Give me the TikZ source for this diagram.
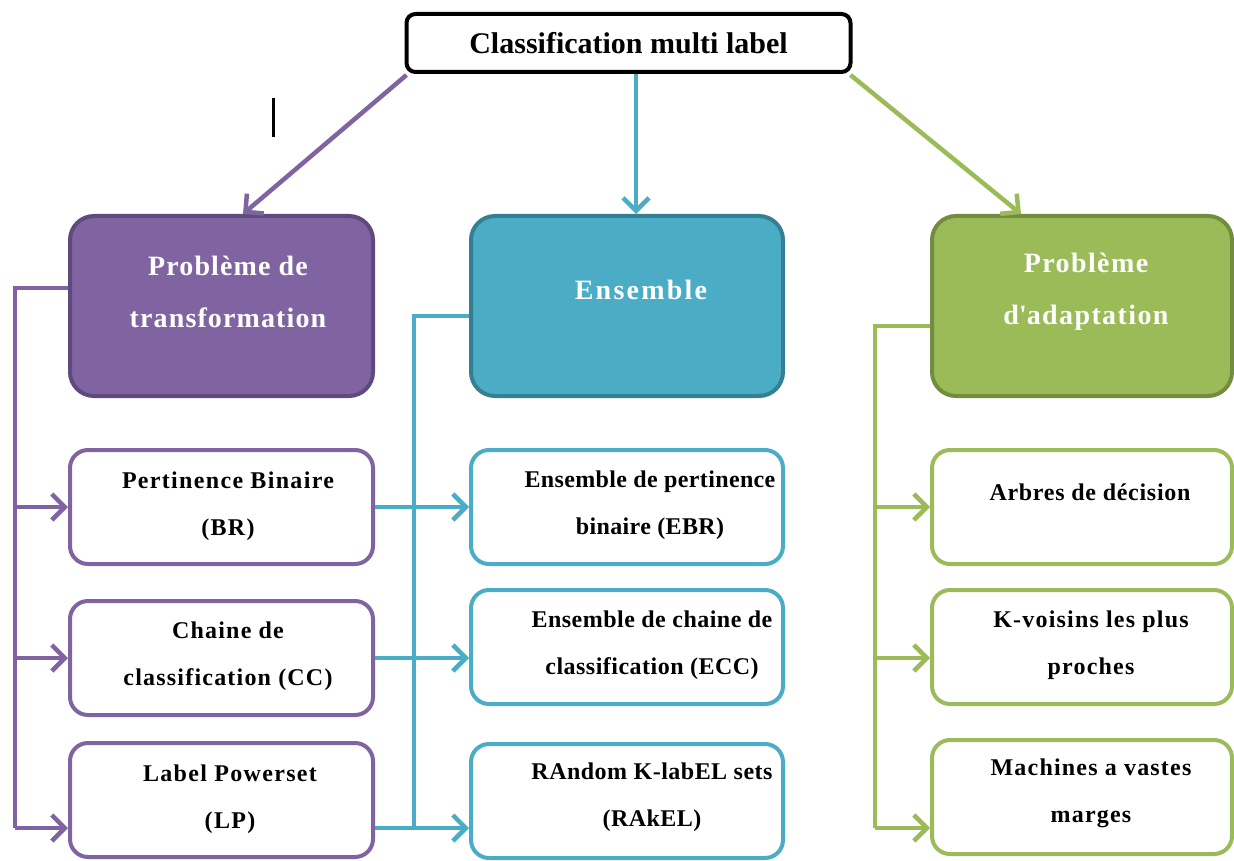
\documentclass[tikz,border=0pt]{standalone}
\usepackage{fontspec}
\setmainfont{Liberation Serif}
\usetikzlibrary{arrows.meta}
\definecolor{purp}{HTML}{8064A2}
\definecolor{purpdark}{HTML}{5E4A7D}
\definecolor{tealc}{HTML}{4BACC6}
\definecolor{tealcdark}{HTML}{357F95}
\definecolor{grn}{HTML}{9BBB59}
\definecolor{grndark}{HTML}{728C40}

\begin{document}
\begin{tikzpicture}[x=1pt,y=-1pt,
  rootbox/.style={rectangle, rounded corners=9pt, line width=4pt, draw=black, fill=white,
    inner sep=0pt, minimum width=444pt, minimum height=58pt,
    font=\fontsize{30}{36}\selectfont\bfseries},
  bigbox/.style={rectangle, rounded corners=24pt, line width=4pt, draw=#1dark, fill=#1,
    inner sep=0pt, minimum height=180pt},
  smallbox/.style={rectangle, rounded corners=18pt, line width=4pt, draw=#1, fill=white,
    inner sep=0pt, minimum height=114pt},
  bigtext/.style={text=white, align=center, inner sep=0pt,
    font=\fontsize{28}{52}\selectfont\bfseries\addfontfeatures{LetterSpace=#1}},
  bigtext/.default=4,
  smalltext/.style={text=black, align=center, inner sep=0pt,
    font=\fontsize{24}{47}\selectfont\bfseries\addfontfeatures{LetterSpace=#1}},
  smalltext/.default=5.5,
  link/.style={line width=4.5pt, draw=#1},
  tip/.style={-{Straight Barb[length=13pt,width=26pt,line width=4.5pt]}}
]
\path[use as bounding box] (0,0) rectangle (1234,861);

% root
\node[rootbox] (top) at (628.5,43) {Classification multi label};
\draw[line width=3pt] (273,98) -- (273,137);

% three families
\node[bigbox=purp, minimum width=303pt] (pt) at (221.5,306) {};
\node[bigbox=tealc, minimum width=312pt] (et) at (627,306) {};
\node[bigbox=grn, minimum width=300pt] (gt) at (1082,306) {};
\node[bigtext] (ptx) at (228,292) {Problème de\\transformation};
\node[bigtext=8] (etx) at (641,290) {Ensemble};
\node[bigtext=5] (gtx) at (1086,292) {Problème\\d\textquotesingle adaptation};

% transformation methods
\node[smallbox=purp, minimum width=303pt] (br) at (221.5,507) {};
\node[smallbox=purp, minimum width=303pt] (cc) at (221.5,658) {};
\node[smallbox=purp, minimum width=303pt] (lp) at (221.5,800) {};
\node[smalltext] (brx) at (228,506) {Pertinence Binaire\\(BR)};
\node[smalltext=5] (ccx) at (228,656) {Chaine de\\classification (CC)};
\node[smalltext] (lpx) at (230,799) {Label Powerset\\(LP)};

% ensemble methods
\node[smallbox=tealc, minimum width=312pt] (ebr) at (627,507) {};
\node[smallbox=tealc, minimum width=312pt] (ecc) at (627,647) {};
\node[smallbox=tealc, minimum width=312pt] (rak) at (627,801) {};
\node[smalltext=1.5] (ebrx) at (650,505) {Ensemble de pertinence\\binaire (EBR)};
\node[smalltext=2] (eccx) at (652,645) {Ensemble de chaine de\\classification (ECC)};
\node[smalltext=2] (rakx) at (652,797) {RAndom K-labEL sets\\(RAkEL)};

% adaptation methods
\node[smallbox=grn, minimum width=300pt] (ad) at (1082,507) {};
\node[smallbox=grn, minimum width=300pt] (kv) at (1082,647) {};
\node[smallbox=grn, minimum width=300pt] (sv) at (1082,797) {};
\node[smalltext=3] (adx) at (1090,492) {Arbres de décision};
\node[smalltext=5] (kvx) at (1091,645) {K-voisins les plus\\proches};
\node[smalltext=5] (svx) at (1091,793) {Machines a vastes\\marges};

% links from the root
\coordinate (pA) at ([xshift=21.5pt]pt.north);
\coordinate (eA) at ([xshift=9pt]et.north);
\coordinate (gA) at ([xshift=-61pt]gt.north);
\draw[link=purp, tip] ([shift={(2pt,-1pt)}]top.south west) -- (pA);
\draw[link=tealc, tip] (top.south -| eA) -- (eA);
\draw[link=grn, tip] ([shift={(-2pt,-1pt)}]top.south east) -- (gA);

% transformation bus
\coordinate (pT) at (15,288);
\coordinate (pB) at (15,828);
\draw[link=purp] ([yshift=18pt]pt.west) -- (pT) -- (pB);
\draw[link=purp, tip] (pT |- br.west) -- (br.west);
\draw[link=purp, tip] (pT |- cc.west) -- (cc.west);
\draw[link=purp, tip] (pB) -- (lp.west |- pB);

% ensemble bus
\coordinate (eT) at (414,316);
\coordinate (eB) at (414,828);
\draw[link=tealc] ([yshift=-10pt]et.west) -- (eT) -- (eB);
\draw[link=tealc, tip] (br.east) -- (ebr.west |- br.east);
\draw[link=tealc, tip] (cc.east) -- (ecc.west |- cc.east);
\draw[link=tealc, tip] (lp.east |- eB) -- (rak.west |- eB);

% adaptation bus
\coordinate (gT) at (875,326);
\coordinate (gB) at (875,828);
\draw[link=grn] ([yshift=-20pt]gt.west) -- (gT) -- (gB);
\draw[link=grn, tip] (gT |- ad.west) -- (ad.west);
\draw[link=grn, tip] (gT |- cc.west) -- (kv.west |- cc.west);
\draw[link=grn, tip] (gB) -- (sv.west |- gB);
\end{tikzpicture}
\end{document}
